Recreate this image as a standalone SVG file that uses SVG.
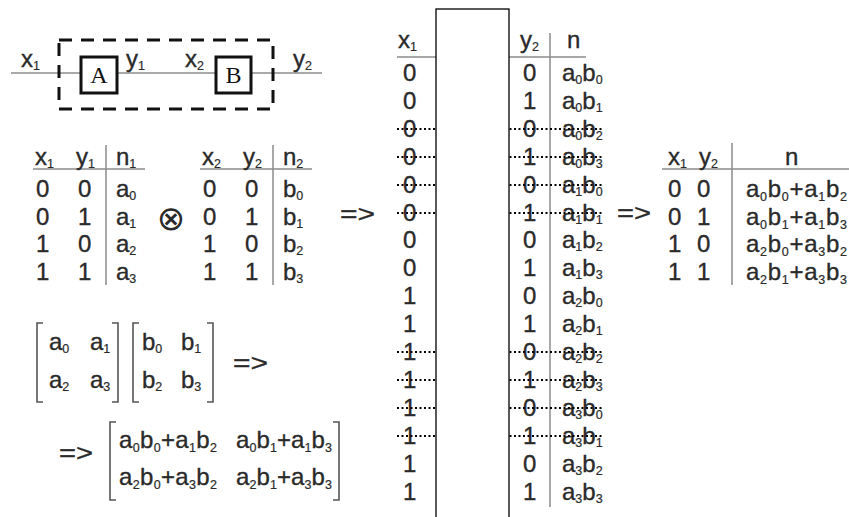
<svg xmlns="http://www.w3.org/2000/svg" width="849" height="517" viewBox="0 0 849 517">
<style>
.t{font-family:"Liberation Sans",Arial,Helvetica,sans-serif;font-size:24px;fill:#2a2a2a;stroke:#2a2a2a;stroke-width:0.35}
.s{font-size:12.5px;stroke-width:0.2}
.ser{font-family:"Liberation Serif","Times New Roman",serif;font-size:24px;fill:#111;text-anchor:middle}
.ln{stroke:#8c8c8c;stroke-width:1.5;fill:none}
.br{stroke:#555;stroke-width:1.6;fill:none}
.dot{stroke:#000;stroke-width:2;stroke-dasharray:2 2.5;fill:none}
.box{fill:#fff;stroke:#111;stroke-width:3}
</style>
<rect width="849" height="517" fill="#fff"/>

<g id="connectors">
  <path class="ln" d="M11 73 H322"/>
  <rect x="59" y="40" width="214" height="69" fill="none" stroke="#111" stroke-width="3" stroke-dasharray="13 9"/>
</g>

<g id="nodeA">
  <rect class="box" x="81" y="57" width="36" height="36"/>
  <text class="ser" x="99" y="83">A</text>
</g>
<g id="nodeB">
  <rect class="box" x="216" y="57" width="35" height="36"/>
  <text class="ser" x="233.5" y="83">B</text>
</g>
<g id="signal-labels" class="t">
  <text x="21" y="67">x<tspan class="s" dy="3">1</tspan></text>
  <text x="126" y="67">y<tspan class="s" dy="3">1</tspan></text>
  <text x="185" y="67">x<tspan class="s" dy="3">2</tspan></text>
  <text x="293" y="67">y<tspan class="s" dy="3">2</tspan></text>
</g>

<!-- Table 1 -->
<g id="table1" class="t">
  <path class="ln" d="M33 169 H145 M106 145 V285"/>
  <text x="35" y="165">x<tspan class="s" dy="3">1</tspan></text>
  <text x="76" y="165">y<tspan class="s" dy="3">1</tspan></text>
  <text x="116" y="165">n<tspan class="s" dy="3">1</tspan></text>
  <text x="36" y="197">0</text><text x="78" y="197">0</text><text x="116" y="197">a<tspan class="s" dy="3">0</tspan></text>
  <text x="36" y="224.5">0</text><text x="78" y="224.5">1</text><text x="116" y="224.5">a<tspan class="s" dy="3">1</tspan></text>
  <text x="36" y="252">1</text><text x="78" y="252">0</text><text x="116" y="252">a<tspan class="s" dy="3">2</tspan></text>
  <text x="36" y="279.5">1</text><text x="78" y="279.5">1</text><text x="116" y="279.5">a<tspan class="s" dy="3">3</tspan></text>
</g>

<g id="otimes">
  <text x="171" y="230" style="font-family:'DejaVu Sans',sans-serif;font-size:34px;fill:#2a2a2a;text-anchor:middle">⊗</text>
</g>

<!-- Table 2 -->
<g id="table2" class="t">
  <path class="ln" d="M200 169 H312 M273 145 V285"/>
  <text x="202" y="165">x<tspan class="s" dy="3">2</tspan></text>
  <text x="243" y="165">y<tspan class="s" dy="3">2</tspan></text>
  <text x="283" y="165">n<tspan class="s" dy="3">2</tspan></text>
  <text x="203" y="197">0</text><text x="245" y="197">0</text><text x="283" y="197">b<tspan class="s" dy="3">0</tspan></text>
  <text x="203" y="224.5">0</text><text x="245" y="224.5">1</text><text x="283" y="224.5">b<tspan class="s" dy="3">1</tspan></text>
  <text x="203" y="252">1</text><text x="245" y="252">0</text><text x="283" y="252">b<tspan class="s" dy="3">2</tspan></text>
  <text x="203" y="279.5">1</text><text x="245" y="279.5">1</text><text x="283" y="279.5">b<tspan class="s" dy="3">3</tspan></text>
</g>

<g id="arrows" class="t">
  <text x="340" y="222" textLength="35" lengthAdjust="spacingAndGlyphs">=&gt;</text>
  <text x="233" y="371" textLength="35" lengthAdjust="spacingAndGlyphs">=&gt;</text>
  <text x="59" y="461" textLength="34" lengthAdjust="spacingAndGlyphs">=&gt;</text>
  <text x="617" y="221" textLength="34" lengthAdjust="spacingAndGlyphs">=&gt;</text>
</g>

<!-- Matrix A -->
<g id="matrixA" class="t">
  <path class="br" d="M43 323 H37 V402 H43 M112 323 H118 V402 H112"/>
  <text x="49" y="350">a<tspan class="s" dy="3">0</tspan></text>
  <text x="90" y="350">a<tspan class="s" dy="3">1</tspan></text>
  <text x="49" y="388">a<tspan class="s" dy="3">2</tspan></text>
  <text x="90" y="388">a<tspan class="s" dy="3">3</tspan></text>
</g>
<g id="matrixB" class="t">
  <path class="br" d="M139 323 H133 V402 H139 M207 323 H213 V402 H207"/>
  <text x="142" y="350">b<tspan class="s" dy="3">0</tspan></text>
  <text x="181" y="350">b<tspan class="s" dy="3">1</tspan></text>
  <text x="142" y="388">b<tspan class="s" dy="3">2</tspan></text>
  <text x="181" y="388">b<tspan class="s" dy="3">3</tspan></text>
</g>
<g id="matrixAB" class="t">
  <path class="br" d="M116 422 H110 V500 H116 M333 422 H339 V500 H333"/>
  <text x="119" y="448" textLength="98" lengthAdjust="spacing">a<tspan class="s" dy="4">0</tspan><tspan dy="-4">b</tspan><tspan class="s" dy="4">0</tspan><tspan dy="-4">+a</tspan><tspan class="s" dy="4">1</tspan><tspan dy="-4">b</tspan><tspan class="s" dy="4">2</tspan></text>
  <text x="236" y="448" textLength="96" lengthAdjust="spacing">a<tspan class="s" dy="4">0</tspan><tspan dy="-4">b</tspan><tspan class="s" dy="4">1</tspan><tspan dy="-4">+a</tspan><tspan class="s" dy="4">1</tspan><tspan dy="-4">b</tspan><tspan class="s" dy="4">3</tspan></text>
  <text x="119" y="485" textLength="98" lengthAdjust="spacing">a<tspan class="s" dy="4">2</tspan><tspan dy="-4">b</tspan><tspan class="s" dy="4">0</tspan><tspan dy="-4">+a</tspan><tspan class="s" dy="4">3</tspan><tspan dy="-4">b</tspan><tspan class="s" dy="4">2</tspan></text>
  <text x="236" y="485" textLength="96" lengthAdjust="spacing">a<tspan class="s" dy="4">2</tspan><tspan dy="-4">b</tspan><tspan class="s" dy="4">1</tspan><tspan dy="-4">+a</tspan><tspan class="s" dy="4">3</tspan><tspan dy="-4">b</tspan><tspan class="s" dy="4">3</tspan></text>
</g>

<!-- Middle table -->
<g id="table-middle" class="t">
  <path class="ln" d="M397 57 H586 M550 33 V507"/>
  <text x="398" y="48">x<tspan class="s" dy="3">1</tspan></text>
  <text x="520" y="48">y<tspan class="s" dy="3">2</tspan></text>
  <text x="567" y="48">n</text>
  <g>
    <text x="403" y="81">0</text><text x="523" y="81">0</text><text x="562" y="81">a<tspan class="s" dy="3">0</tspan><tspan dy="-3">b</tspan><tspan class="s" dy="3">0</tspan></text>
    <text x="403" y="108.9">0</text><text x="523" y="108.9">1</text><text x="562" y="108.9">a<tspan class="s" dy="3">0</tspan><tspan dy="-3">b</tspan><tspan class="s" dy="3">1</tspan></text>
    <text x="403" y="136.8">0</text><text x="523" y="136.8">0</text><text x="562" y="136.8">a<tspan class="s" dy="3">0</tspan><tspan dy="-3">b</tspan><tspan class="s" dy="3">2</tspan></text>
    <text x="403" y="164.7">0</text><text x="523" y="164.7">1</text><text x="562" y="164.7">a<tspan class="s" dy="3">0</tspan><tspan dy="-3">b</tspan><tspan class="s" dy="3">3</tspan></text>
    <text x="403" y="192.6">0</text><text x="523" y="192.6">0</text><text x="562" y="192.6">a<tspan class="s" dy="3">1</tspan><tspan dy="-3">b</tspan><tspan class="s" dy="3">0</tspan></text>
    <text x="403" y="220.5">0</text><text x="523" y="220.5">1</text><text x="562" y="220.5">a<tspan class="s" dy="3">1</tspan><tspan dy="-3">b</tspan><tspan class="s" dy="3">1</tspan></text>
    <text x="403" y="248.4">0</text><text x="523" y="248.4">0</text><text x="562" y="248.4">a<tspan class="s" dy="3">1</tspan><tspan dy="-3">b</tspan><tspan class="s" dy="3">2</tspan></text>
    <text x="403" y="276.3">0</text><text x="523" y="276.3">1</text><text x="562" y="276.3">a<tspan class="s" dy="3">1</tspan><tspan dy="-3">b</tspan><tspan class="s" dy="3">3</tspan></text>
    <text x="403" y="304.2">1</text><text x="523" y="304.2">0</text><text x="562" y="304.2">a<tspan class="s" dy="3">2</tspan><tspan dy="-3">b</tspan><tspan class="s" dy="3">0</tspan></text>
    <text x="403" y="332.1">1</text><text x="523" y="332.1">1</text><text x="562" y="332.1">a<tspan class="s" dy="3">2</tspan><tspan dy="-3">b</tspan><tspan class="s" dy="3">1</tspan></text>
    <text x="403" y="360">1</text><text x="523" y="360">0</text><text x="562" y="360">a<tspan class="s" dy="3">2</tspan><tspan dy="-3">b</tspan><tspan class="s" dy="3">2</tspan></text>
    <text x="403" y="387.9">1</text><text x="523" y="387.9">1</text><text x="562" y="387.9">a<tspan class="s" dy="3">2</tspan><tspan dy="-3">b</tspan><tspan class="s" dy="3">3</tspan></text>
    <text x="403" y="415.8">1</text><text x="523" y="415.8">0</text><text x="562" y="415.8">a<tspan class="s" dy="3">3</tspan><tspan dy="-3">b</tspan><tspan class="s" dy="3">0</tspan></text>
    <text x="403" y="443.7">1</text><text x="523" y="443.7">1</text><text x="562" y="443.7">a<tspan class="s" dy="3">3</tspan><tspan dy="-3">b</tspan><tspan class="s" dy="3">1</tspan></text>
    <text x="403" y="471.6">1</text><text x="523" y="471.6">0</text><text x="562" y="471.6">a<tspan class="s" dy="3">3</tspan><tspan dy="-3">b</tspan><tspan class="s" dy="3">2</tspan></text>
    <text x="403" y="499.5">1</text><text x="523" y="499.5">1</text><text x="562" y="499.5">a<tspan class="s" dy="3">3</tspan><tspan dy="-3">b</tspan><tspan class="s" dy="3">3</tspan></text>
  </g>
  <path class="dot" d="M397 129 H603 M397 157 H603 M397 185 H603 M397 213 H603 M397 352 H603 M397 380 H603 M397 408 H603 M397 436 H603"/>
  <rect x="436" y="9" width="73" height="520" fill="#fff" stroke="#000" stroke-width="1.3"/>
</g>

<!-- Right table -->
<g id="table-result" class="t">
  <path class="ln" d="M662 169 H849 M732 143 V285"/>
  <text x="668" y="165">x<tspan class="s" dy="3">1</tspan></text>
  <text x="699" y="165">y<tspan class="s" dy="3">2</tspan></text>
  <text x="785" y="165">n</text>
  <text x="668" y="197">0</text><text x="697" y="197">0</text>
  <text x="746" y="197" textLength="101" lengthAdjust="spacing">a<tspan class="s" dy="4">0</tspan><tspan dy="-4">b</tspan><tspan class="s" dy="4">0</tspan><tspan dy="-4">+a</tspan><tspan class="s" dy="4">1</tspan><tspan dy="-4">b</tspan><tspan class="s" dy="4">2</tspan></text>
  <text x="668" y="224.5">0</text><text x="697" y="224.5">1</text>
  <text x="746" y="224.5" textLength="101" lengthAdjust="spacing">a<tspan class="s" dy="4">0</tspan><tspan dy="-4">b</tspan><tspan class="s" dy="4">1</tspan><tspan dy="-4">+a</tspan><tspan class="s" dy="4">1</tspan><tspan dy="-4">b</tspan><tspan class="s" dy="4">3</tspan></text>
  <text x="668" y="252">1</text><text x="697" y="252">0</text>
  <text x="746" y="252" textLength="101" lengthAdjust="spacing">a<tspan class="s" dy="4">2</tspan><tspan dy="-4">b</tspan><tspan class="s" dy="4">0</tspan><tspan dy="-4">+a</tspan><tspan class="s" dy="4">3</tspan><tspan dy="-4">b</tspan><tspan class="s" dy="4">2</tspan></text>
  <text x="668" y="279.5">1</text><text x="697" y="279.5">1</text>
  <text x="746" y="279.5" textLength="101" lengthAdjust="spacing">a<tspan class="s" dy="4">2</tspan><tspan dy="-4">b</tspan><tspan class="s" dy="4">1</tspan><tspan dy="-4">+a</tspan><tspan class="s" dy="4">3</tspan><tspan dy="-4">b</tspan><tspan class="s" dy="4">3</tspan></text>
</g>
</svg>
